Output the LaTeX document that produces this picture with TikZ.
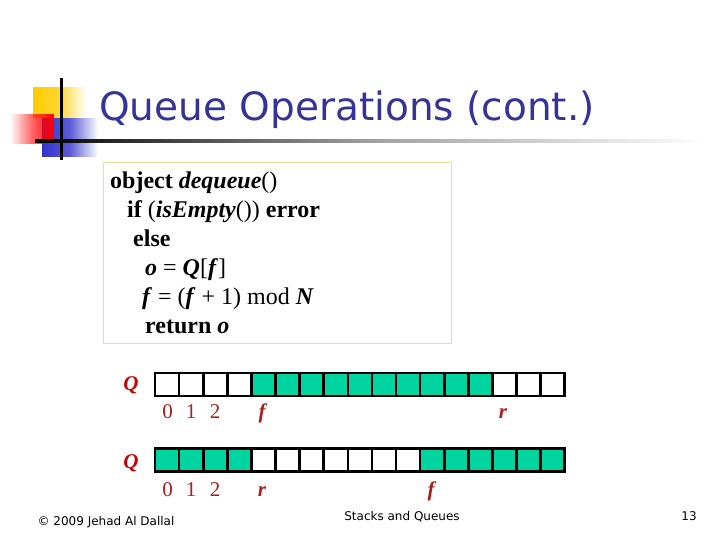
\documentclass[tikz,border=0pt]{standalone}
\usepackage{fontspec}
\setmainfont{Liberation Serif}
\newfontfamily\titlefont{DejaVu Sans}
\newfontfamily\footfont{DejaVu Sans}
\usetikzlibrary{fadings}
\definecolor{titleblue}{RGB}{51,51,153}
\definecolor{cellgreen}{RGB}{0,212,160}
\definecolor{qred}{RGB}{204,0,0}
\definecolor{idxred}{RGB}{170,30,30}
\definecolor{boxline}{RGB}{232,226,150}
\definecolor{deco yellow}{RGB}{255,204,0}
\definecolor{deco blue}{RGB}{51,51,204}
\tikzfading[name=fade right, left color=transparent!0, right color=transparent!100, middle color=transparent!20]
\tikzfading[name=fade left, left color=transparent!100, right color=transparent!0, middle color=transparent!40]
\newcommand{\rg}[1]{{\mdseries #1}}
\tikzset{
  cell/.style={draw=black, line width=2.6pt, minimum width=24.1pt, minimum height=23pt, inner sep=0pt, outer sep=0pt},
  full/.style={cell, fill=cellgreen},
  empty/.style={cell, fill=white},
  qlabel/.style={text=qred, font=\fontsize{21}{21}\selectfont\bfseries\itshape, anchor=base},
  idx/.style={text=idxred, font=\fontsize{21}{21}\selectfont, anchor=base},
  idxi/.style={text=idxred, font=\fontsize{21}{21}\selectfont\bfseries\itshape, anchor=base},
  code/.style={font=\fontsize{24}{24}\selectfont\bfseries, anchor=base west, inner sep=0pt},
  foot/.style={font=\footfont\fontsize{12}{12}\selectfont, anchor=base, inner sep=0pt}
}
\begin{document}
\begin{tikzpicture}[x=1pt,y=-1pt]
\useasboundingbox (0,0) rectangle (720,540);
% decoration
\fill[deco yellow, path fading=fade right] (33,87) rectangle (86,118);
\fill[deco blue, path fading=fade right] (42,118) rectangle (98,157);
\fill[red, path fading=fade left] (10,114) rectangle (54,144);
\shade[left color=black, right color=white, middle color=gray!75] (35,140) rectangle (705,142.3);
\fill[black] (60,78) rectangle (62.5,160);
% title
\node[anchor=base west, inner sep=0pt, text=titleblue, font=\titlefont\fontsize{39}{39}\selectfont] (title) at (99,121) {Queue Operations (cont.)};
% code box
\node[draw=boxline, line width=1.2pt, fill=white, minimum width=348pt, minimum height=181pt, anchor=north west, inner sep=0pt] (box) at (103,162) {};
\node[code] (l1) at (110,189) {object \textit{dequeue}\rg{()}};
\node[code] (l2) at (127,218) {if \rg{(}\textit{isEmpty}\rg{())} error};
\node[code] (l3) at (133,246) {else};
\node[code] (l4) at (145,275) {\textit{o} \rg{=} \textit{Q}\rg{[}\textit{f}\rg{]}};
\node[code] (l5) at (142,304) {\textit{f} \rg{= (}\textit{f} \rg{+ 1) mod} \textit{N}};
\node[code] (l6) at (145,333) {return \textit{o}};
% arrays
\foreach \i in {0,...,16}{
  \pgfmathtruncatemacro{\inA}{(\i>3) && (\i<14)}
  \pgfmathtruncatemacro{\inB}{(\i<4) || (\i>10)}
  \ifnum\inA=1 \node[full] (a\i) at ({155+24.1*(\i+0.5)},384.5) {};
  \else \node[empty] (a\i) at ({155+24.1*(\i+0.5)},384.5) {}; \fi
  \ifnum\inB=1 \node[full] (b\i) at ({155+24.1*(\i+0.5)},460) {};
  \else \node[empty] (b\i) at ({155+24.1*(\i+0.5)},460) {}; \fi
}
\draw[line width=2.6pt] (a0.north west) rectangle (a16.south east);
\draw[line width=2.6pt] (b0.north west) rectangle (b16.south east);
\node[qlabel] (qa) at (131,390) {Q};
\node[qlabel] (qb) at (131,468) {Q};
\node[idx] (a0l) at (167.5,418) {0};
\node[idx] (a1l) at (191,418) {1};
\node[idx] (a2l) at (215,418) {2};
\node[idxi] (fa) at (262,418) {f};
\node[idxi] (ra) at (503,418) {r};
\node[idx] (b0l) at (167.5,496) {0};
\node[idx] (b1l) at (191,496) {1};
\node[idx] (b2l) at (215,496) {2};
\node[idxi] (rb) at (262,496) {r};
\node[idxi] (fb) at (431,496) {f};
% footer
\node[foot] (copy) at (106,525) {© 2009 Jehad Al Dallal};
\node[foot] (topic) at (402,520) {Stacks and Queues};
\node[foot] (page) at (689,520) {13};
\end{tikzpicture}
\end{document}
